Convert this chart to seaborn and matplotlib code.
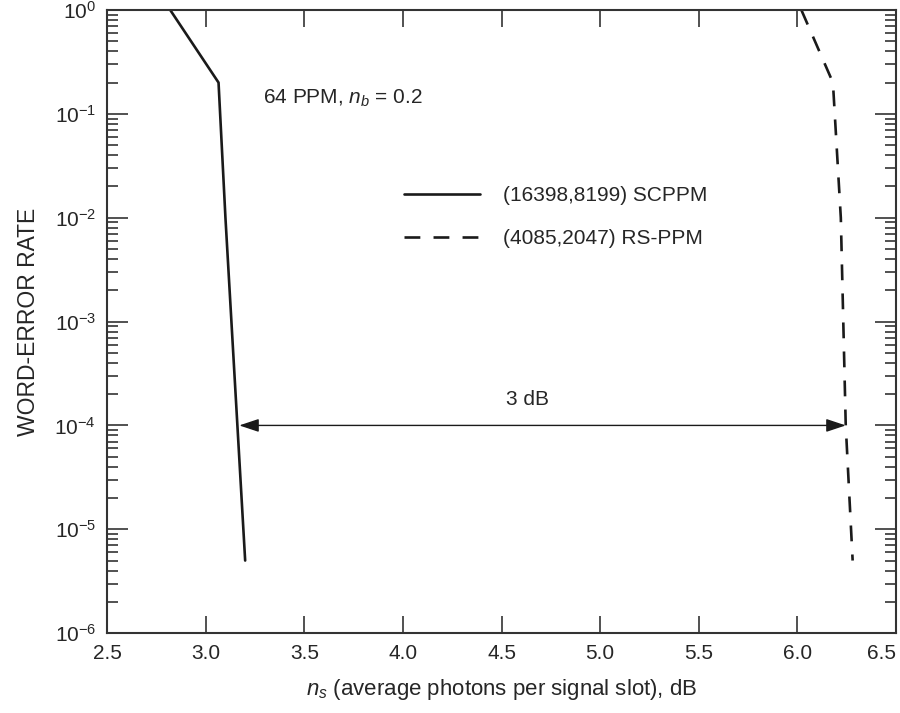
import numpy as np
import pandas as pd
import matplotlib
matplotlib.use("Agg")
import matplotlib.pyplot as plt
import matplotlib.ticker as mticker
import seaborn as sns

# ---------------- DATA ----------------

scppm_x = [2.82, 3.065, 3.10, 3.20]
scppm_y = [1.0, 0.2, 0.01, 5e-6]

rsppm_x = [6.02, 6.18, 6.22, 6.245, 6.28]
rsppm_y = [1.0, 0.2, 0.01, 1e-4, 5e-6]

series_names = ["(16398,8199) SCPPM", "(4085,2047) RS-PPM"]

x_ticks = [2.5, 3.0, 3.5, 4.0, 4.5, 5.0, 5.5, 6.0, 6.5]

arrow_start = 3.17
arrow_end = 6.245
arrow_level = 1e-4


def main():
    df = pd.concat([
        pd.DataFrame({"x": scppm_x, "y": scppm_y, "code": series_names[0]}),
        pd.DataFrame({"x": rsppm_x, "y": rsppm_y, "code": series_names[1]}),
    ])

    sns.set_style("ticks")
    plt.rcParams["font.family"] = ["Liberation Sans", "DejaVu Sans"]
    plt.rcParams["mathtext.fontset"] = "custom"
    plt.rcParams["mathtext.it"] = "Liberation Sans:italic"
    plt.rcParams["mathtext.rm"] = "Liberation Sans"

    fig, ax = plt.subplots(figsize=(9, 7.13), dpi=100)
    fig.subplots_adjust(left=0.119, right=0.9956, top=0.986, bottom=0.112)

    sns.lineplot(
        data=df, x="x", y="y", style="code",
        dashes={series_names[0]: "", series_names[1]: (6, 5)},
        color="#1a1a1a", linewidth=1.9, sort=False, estimator=None,
        ax=ax
    )

    ax.set_yscale("log")
    ax.set_xlim(2.5, 6.5)
    ax.set_ylim(1e-6, 1.0)
    ax.set_xticks(x_ticks)
    ax.xaxis.set_major_formatter(mticker.FormatStrFormatter("%.1f"))
    ax.yaxis.set_major_locator(mticker.LogLocator(base=10, numticks=10))
    ax.yaxis.set_minor_locator(mticker.LogLocator(base=10, subs=np.arange(2, 10), numticks=10))
    ax.yaxis.set_minor_formatter(mticker.NullFormatter())

    ax.tick_params(axis="both", which="major", direction="in", top=True, right=True,
                   labelsize=15, width=1.2, color="#333333", pad=8)
    ax.tick_params(axis="y", which="major", length=15)
    ax.tick_params(axis="x", which="major", length=12)
    ax.tick_params(axis="y", which="minor", direction="in", right=True, length=8,
                   width=1.2, color="#333333")
    for s in ax.spines.values():
        s.set_linewidth(1.5)
        s.set_color("#333333")

    # last x tick label sits left of the right edge, as in the original
    fig.canvas.draw()
    ax.get_xticklabels()[-1].set_horizontalalignment("right")
    ax.get_xticklabels()[-1].set_x(6.5)

    # 3 dB arrow
    ax.annotate(
        "", xy=(arrow_start, arrow_level), xytext=(arrow_end, arrow_level),
        arrowprops=dict(arrowstyle="<|-|>,head_length=0.6,head_width=0.2",
                        color="#1a1a1a", lw=1.0, mutation_scale=20,
                        shrinkA=0, shrinkB=0)
    )
    ax.text(4.63, 1.45e-4, "3 dB", fontsize=15, ha="center", va="bottom")

    ax.text(3.29, 0.14, "64 PPM, $n_b$ = 0.2", fontsize=15, ha="left", va="center")

    ax.legend(
        loc="upper left", bbox_to_anchor=(0.352, 0.747), frameon=False,
        fontsize=15, handlelength=3.65, handletextpad=1.1, labelspacing=1.15,
        title=None
    )

    ax.set_xlabel("$n_s$ (average photons per signal slot), dB", fontsize=16, labelpad=10)
    ax.set_ylabel("WORD-ERROR RATE", fontsize=16.5, labelpad=10)

    plt.savefig("out.png", dpi=100)


if __name__ == "__main__":
    main()
